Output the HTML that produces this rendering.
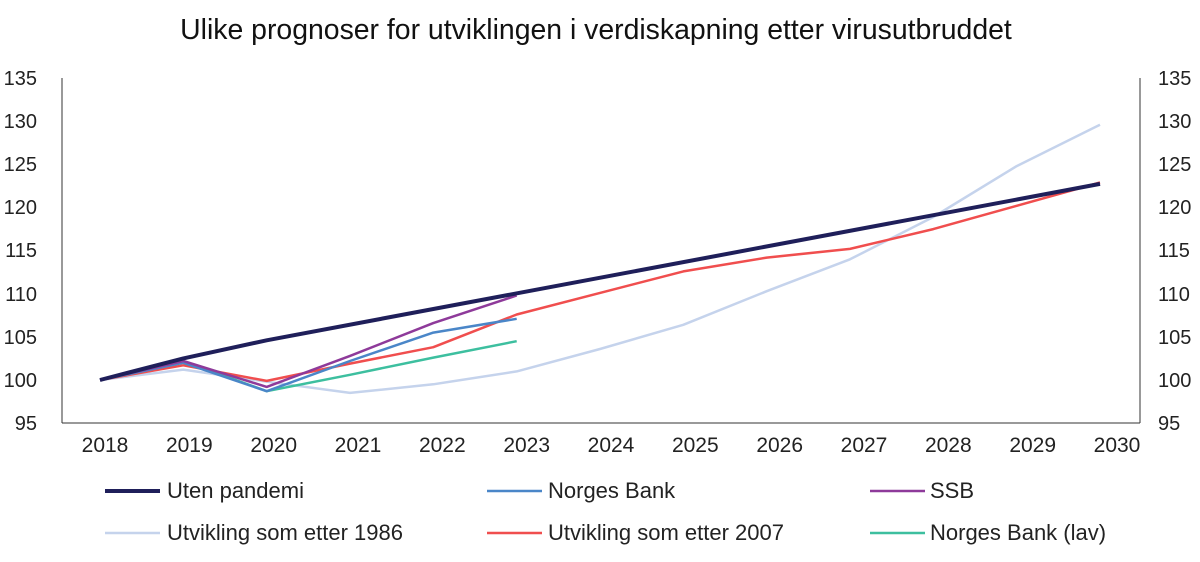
<!DOCTYPE html>
<html><head><meta charset="utf-8"><style>
body{margin:0;background:#fff;}
svg{display:block;font-family:"Liberation Sans",sans-serif;}
</style></head><body>
<svg width="1200" height="562" viewBox="0 0 1200 562" xmlns="http://www.w3.org/2000/svg">
<text x="596" y="39" font-size="28.4" text-anchor="middle" fill="#111">Ulike prognoser for utviklingen i verdiskapning etter virusutbruddet</text>
<g stroke="#333" stroke-width="1" fill="none">
<line x1="62" y1="78" x2="62" y2="423"/>
<line x1="1140" y1="78" x2="1140" y2="423"/>
<line x1="62" y1="423" x2="1140" y2="423"/>
</g>
<g font-size="20" fill="#222">
<g text-anchor="end">
<text x="37" y="85">135</text><text x="37" y="128">130</text><text x="37" y="171">125</text><text x="37" y="214">120</text><text x="37" y="257">115</text><text x="37" y="301">110</text><text x="37" y="344">105</text><text x="37" y="387">100</text><text x="37" y="430">95</text>
</g>
<g text-anchor="start">
<text x="1158" y="85">135</text><text x="1158" y="128">130</text><text x="1158" y="171">125</text><text x="1158" y="214">120</text><text x="1158" y="257">115</text><text x="1158" y="301">110</text><text x="1158" y="344">105</text><text x="1158" y="387">100</text><text x="1158" y="430">95</text>
</g>
</g>
<g font-size="21" fill="#222" text-anchor="middle">
<text x="105" y="452">2018</text><text x="189.3" y="452">2019</text><text x="273.7" y="452">2020</text><text x="358" y="452">2021</text><text x="442.3" y="452">2022</text><text x="526.7" y="452">2023</text><text x="611" y="452">2024</text><text x="695.3" y="452">2025</text><text x="779.7" y="452">2026</text><text x="864" y="452">2027</text><text x="948.3" y="452">2028</text><text x="1032.7" y="452">2029</text><text x="1117" y="452">2030</text>
</g>
<g fill="none" stroke-linejoin="round">
<polyline stroke="#c5d3ec" stroke-width="2.5" points="100,380 183.3,369.6 266.7,381.7 350,392.9 433.3,384.3 516.7,371.4 600,349 683.3,324.8 766.7,291.2 850,259.3 933.3,217 1016.7,166.1 1100,124.7"/>
<polyline stroke="#f04e4e" stroke-width="2.5" points="100,380 183.3,365.3 266.7,380.9 350,363.6 433.3,347.2 516.7,314.5 600,292.9 683.3,271.4 766.7,257.6 850,248.9 933.3,229.1 1016.7,205.8 1100,182.5"/>
<polyline stroke="#3dbf9f" stroke-width="2.5" points="100,380 183.3,361 266.7,391.2 350,374.8 433.3,357.6 516.7,341.2"/>
<polyline stroke="#4a86c8" stroke-width="2.5" points="100,380 183.3,362.8 266.7,391.2 350,361 433.3,332.6 516.7,318.8"/>
<polyline stroke="#8e3a9a" stroke-width="2.5" points="100,380 183.3,361 266.7,386.9 350,355.9 433.3,323.1 516.7,295.5"/>
<polyline stroke="#1f1f5a" stroke-width="4" points="100,380 183.3,358.4 266.7,340.3 1100,183.9"/>
</g>
<g font-size="22" fill="#222">
<line x1="105" y1="491" x2="160" y2="491" stroke="#1f1f5a" stroke-width="4"/><text x="167" y="498">Uten pandemi</text>
<line x1="487" y1="491" x2="542" y2="491" stroke="#4a86c8" stroke-width="2.5"/><text x="548" y="498">Norges Bank</text>
<line x1="870" y1="491" x2="925" y2="491" stroke="#8e3a9a" stroke-width="2.5"/><text x="930" y="498">SSB</text>
<line x1="105" y1="533" x2="160" y2="533" stroke="#c5d3ec" stroke-width="2.5"/><text x="167" y="540">Utvikling som etter 1986</text>
<line x1="487" y1="533" x2="542" y2="533" stroke="#f04e4e" stroke-width="2.5"/><text x="548" y="540">Utvikling som etter 2007</text>
<line x1="870" y1="533" x2="925" y2="533" stroke="#3dbf9f" stroke-width="2.5"/><text x="930" y="540">Norges Bank (lav)</text>
</g>
</svg>
</body></html>
